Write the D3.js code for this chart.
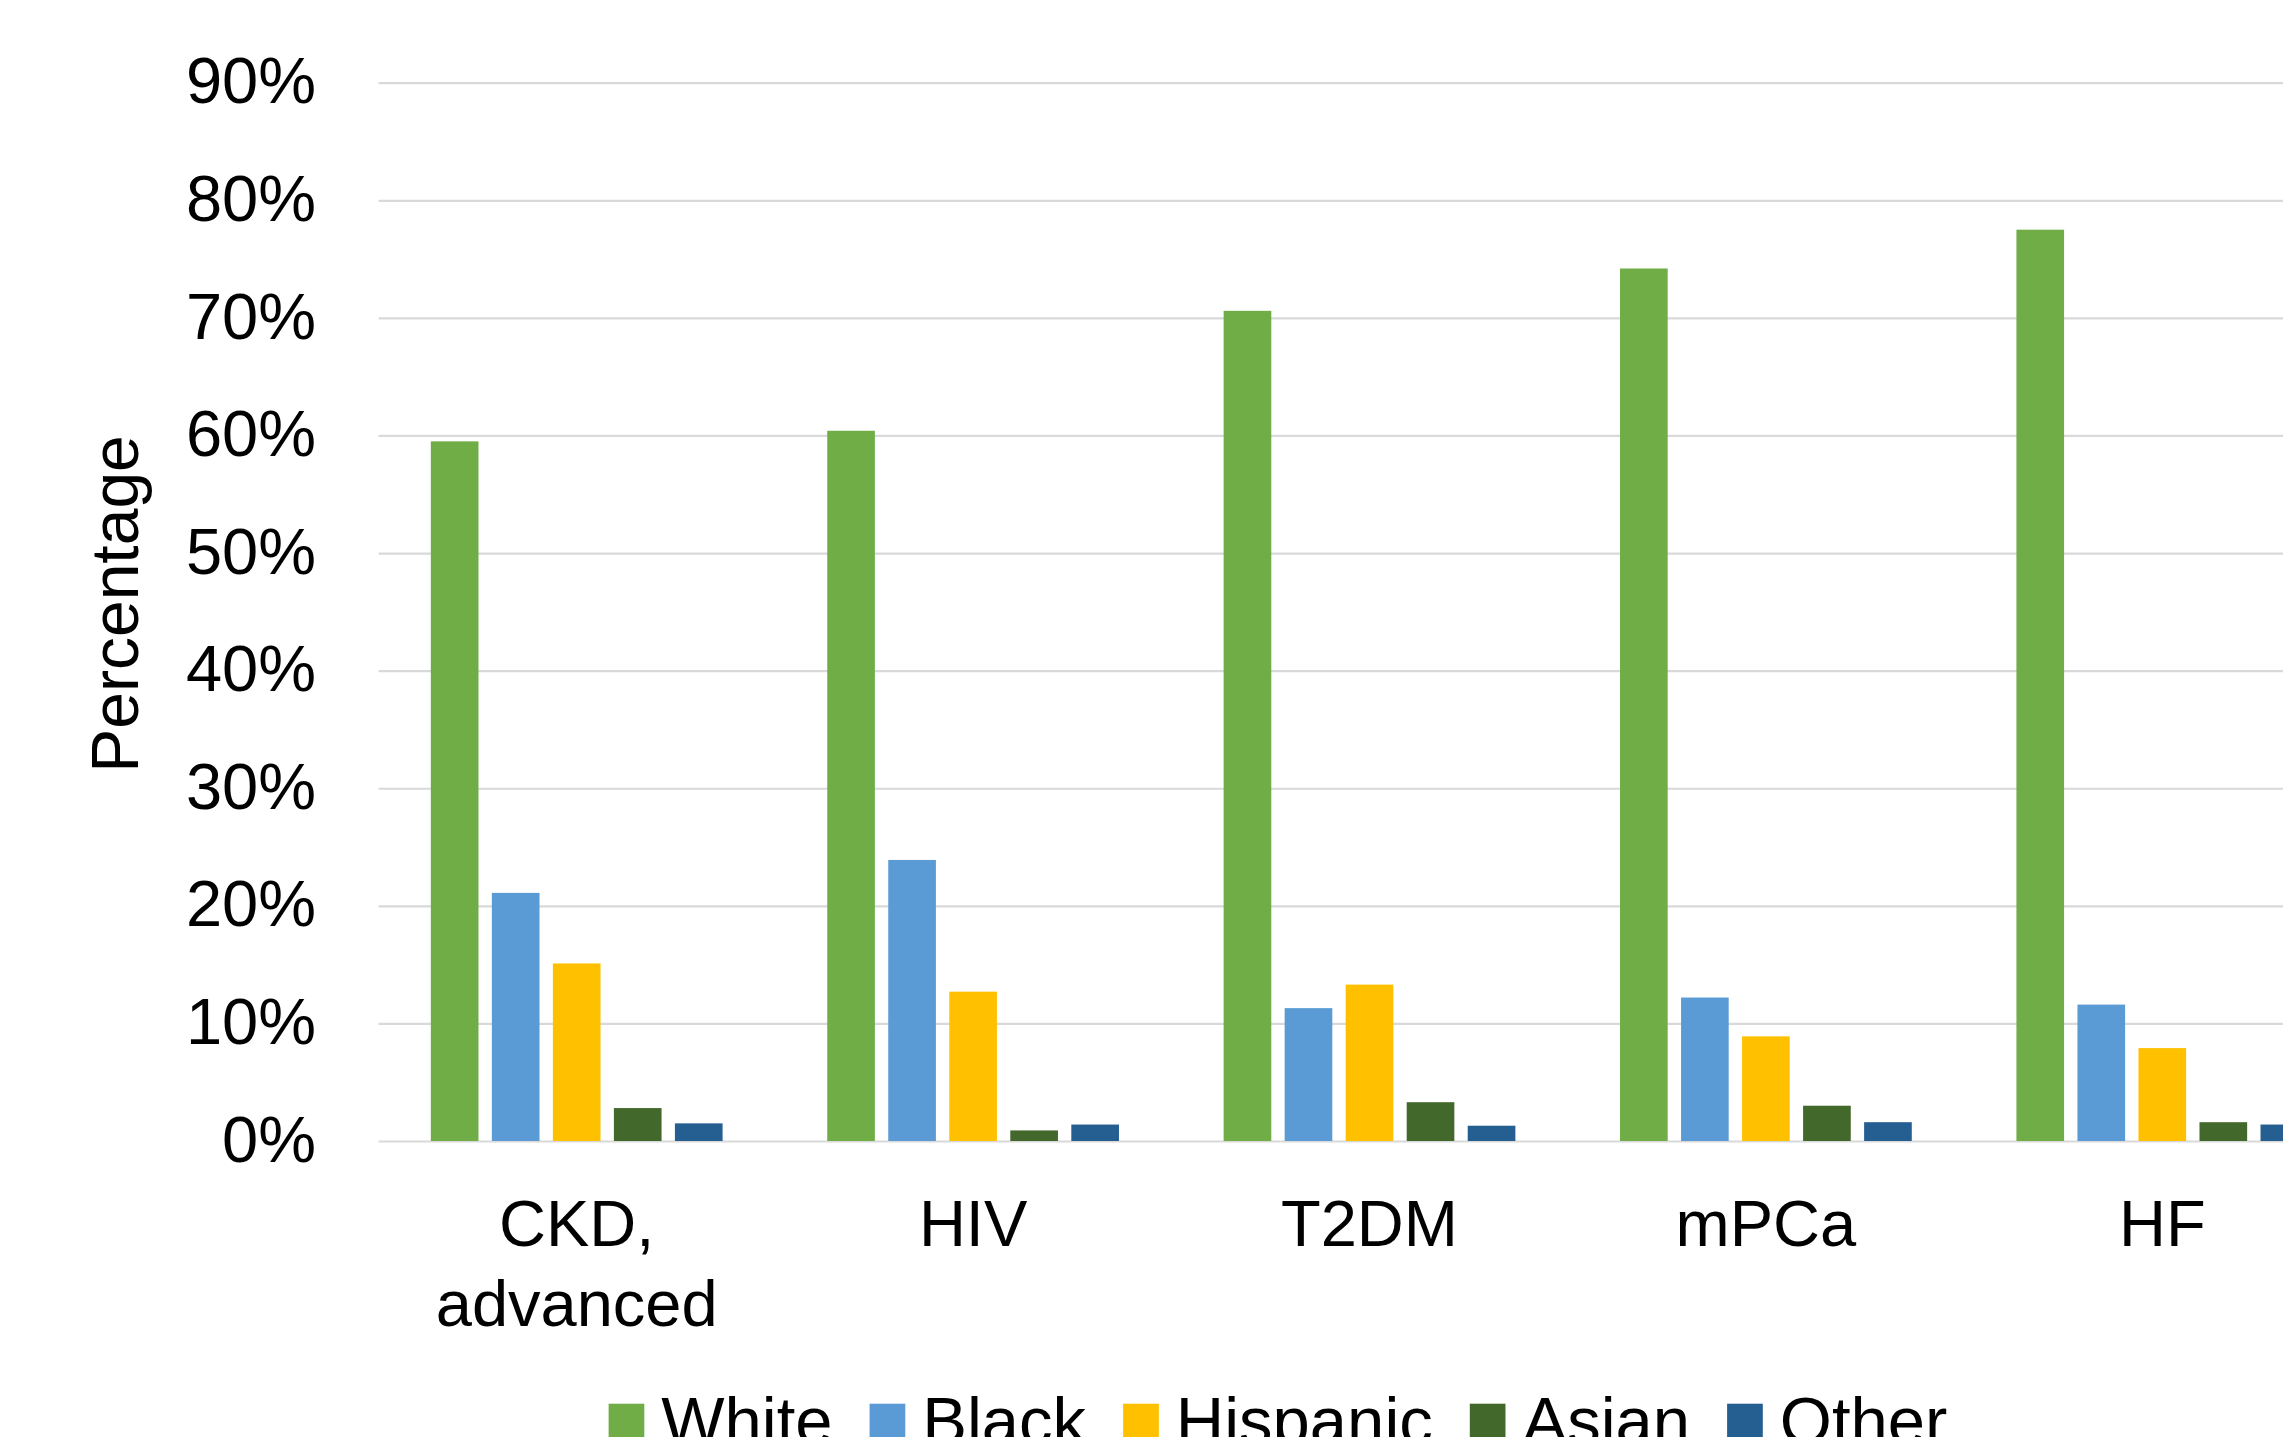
<!DOCTYPE html>
<html>
<head>
<meta charset="utf-8">
<script src="https://cdn.jsdelivr.net/npm/d3@7"></script>
<style>
  html, body { margin: 0; padding: 0; background: #ffffff; }
  svg { display: block; }
  text { font-family: "Liberation Sans", Arial, Helvetica, sans-serif; fill: #000; }
</style>
</head>
<body>
<svg id="chart" width="2283" height="1437"></svg>
<script>
// Conditions on the x axis
const categories = ["CKD, advanced", "HIV", "T2DM", "mPCa", "HF"];

// Race / ethnicity groups and their share of each population (%)
const seriesNames = ["White", "Black", "Hispanic", "Asian", "Other"];
const whiteValues    = [59.5, 60.4, 70.6, 74.2, 77.5];
const blackValues    = [21.1, 23.9, 11.3, 12.2, 11.6];
const hispanicValues = [15.1, 12.7, 13.3,  8.9,  7.9];
const asianValues    = [ 2.8,  0.9,  3.3,  3.0,  1.6];
const otherValues    = [ 1.5,  1.4,  1.3,  1.6,  1.4];

// Y axis ticks (%)
const yTicks = [0, 10, 20, 30, 40, 50, 60, 70, 80, 90];

const seriesValues = [whiteValues, blackValues, hispanicValues, asianValues, otherValues];
const seriesColors = ["#70AD47", "#5B9BD5", "#FFC000", "#43682B", "#255E91"];

const svg = d3.select("#chart");

// Plot area (the last category runs past the right edge of the page)
const plot = { left: 378.5, right: 2360.5, top: 82.7, bottom: 1141 };
const fontSize = 65;

const x = d3.scaleBand()
  .domain(categories)
  .range([plot.left, plot.right])
  .paddingInner(0.264)
  .paddingOuter(0.132);

const xInner = d3.scaleBand()
  .domain(seriesNames)
  .range([0, x.bandwidth()])
  .paddingInner(0.219)
  .paddingOuter(0);

const y = d3.scaleLinear()
  .domain([0, 90])
  .range([plot.bottom, plot.top]);

const color = d3.scaleOrdinal().domain(seriesNames).range(seriesColors);

// Gridlines + y tick labels
const yAxis = d3.axisLeft(y)
  .tickValues(yTicks)
  .tickFormat(d => d + "%")
  .tickSizeInner(-(plot.right - plot.left))
  .tickSizeOuter(0)
  .tickPadding(62.5);

const gy = svg.append("g")
  .attr("transform", `translate(${plot.left},0)`)
  .call(yAxis);
gy.select(".domain").remove();
gy.selectAll(".tick line").attr("stroke", "#D9D9D9").attr("stroke-width", 2.2);
gy.selectAll(".tick text")
  .attr("font-size", fontSize)
  .attr("font-family", "Liberation Sans, Arial, sans-serif")
  .attr("fill", "#000")
  .attr("dy", "0.31em");

// Bars
const rows = [];
categories.forEach((c, i) => {
  seriesNames.forEach((s, j) => {
    rows.push({ category: c, series: s, value: seriesValues[j][i] });
  });
});

svg.append("g")
  .selectAll("rect")
  .data(rows)
  .join("rect")
  .attr("x", d => x(d.category) + xInner(d.series))
  .attr("y", d => y(d.value))
  .attr("width", xInner.bandwidth())
  .attr("height", d => y(0) - y(d.value))
  .attr("fill", d => color(d.series));

// Category labels, wrapped to the width of the category band
const lineHeight = 80;
const xLabels = svg.append("g")
  .selectAll("text")
  .data(categories)
  .join("text")
  .attr("text-anchor", "middle")
  .attr("font-size", fontSize)
  .attr("x", d => x(d) + x.bandwidth() / 2)
  .attr("y", plot.bottom + 105);

xLabels.each(function (d) {
  const text = d3.select(this);
  const cx = x(d) + x.bandwidth() / 2;
  const words = d.split(/\s+/);
  let line = [];
  let tspan = text.append("tspan").attr("x", cx).attr("dy", 0);
  words.forEach(w => {
    line.push(w);
    tspan.text(line.join(" "));
    if (tspan.node().getComputedTextLength() > x.bandwidth() && line.length > 1) {
      line.pop();
      tspan.text(line.join(" "));
      line = [w];
      tspan = text.append("tspan").attr("x", cx).attr("dy", lineHeight).text(w);
    }
  });
});

// Y axis title
svg.append("text")
  .attr("transform", `translate(137.5, 604) rotate(-90)`)
  .attr("text-anchor", "middle")
  .attr("font-size", 66)
  .text("Percentage");

// Legend along the bottom
const legend = svg.append("g");
const legendFont = 67;
const swatch = 35.7;
const swatchGap = 17;
const entryGap = 37;
const legendTextY = 1444;
const entries = legend.selectAll("g")
  .data(seriesNames)
  .join("g");

entries.append("rect")
  .attr("y", 1403.7)
  .attr("width", swatch)
  .attr("height", swatch)
  .attr("fill", d => color(d));

entries.append("text")
  .attr("x", swatch + swatchGap)
  .attr("y", legendTextY)
  .attr("font-size", legendFont)
  .text(d => d);

let offset = 0;
const offsets = [];
entries.each(function () {
  offsets.push(offset);
  const w = d3.select(this).select("text").node().getComputedTextLength();
  offset += swatch + swatchGap + w + entryGap;
});
const totalWidth = offset - entryGap;
const legendCenter = 1278;
const legendStart = legendCenter - totalWidth / 2;
entries.attr("transform", (d, i) => `translate(${legendStart + offsets[i]},0)`);
</script>
</body>
</html>
